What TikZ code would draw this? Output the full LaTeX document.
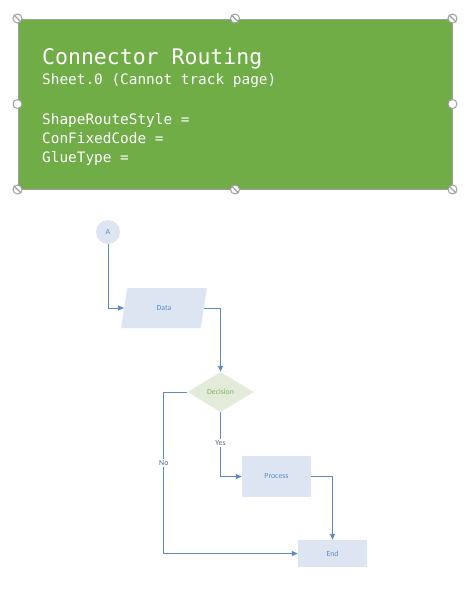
\documentclass[tikz,border=0pt]{standalone}
\usepackage{fontspec}
\setmainfont{Carlito}
\newfontfamily\hdrmono{DejaVu Sans Mono}
\usetikzlibrary{shapes.geometric,arrows.meta}
\definecolor{hdrgreen}{HTML}{70AD47}
\definecolor{hdrborder}{HTML}{A0A0A0}
\definecolor{conblue}{HTML}{5B8BC6}
\definecolor{shapefill}{HTML}{DEE5F2}
\definecolor{shapetext}{HTML}{5B8BC6}
\definecolor{decfill}{HTML}{E3ECDB}
\definecolor{dectext}{HTML}{7DB356}
\definecolor{lbltext}{HTML}{5A6A80}
\tikzset{
  handle/.style={circle,draw=hdrborder,fill=white,line width=1pt,minimum size=9pt,inner sep=0pt},
  hdrtext/.style={anchor=base west,text=white,inner sep=0pt,font=\hdrmono\fontsize{14.4}{16}\selectfont},
  fcshape/.style={fill=shapefill,text=shapetext,font=\fontsize{7.8}{9}\selectfont,inner sep=0pt},
  conn/.style={draw=conblue,line width=1pt,-{Triangle[length=6pt,width=5pt]}},
  lbl/.style={fill=white,text=lbltext,font=\fontsize{7.8}{9}\selectfont,inner sep=1.5pt}
}
\begin{document}
\begin{tikzpicture}[x=1pt,y=-1pt]
\useasboundingbox[fill=white] (0,0) rectangle (470,600);
% header
\node[draw=hdrborder,fill=hdrgreen,line width=1pt,minimum width=434pt,minimum height=170pt,inner sep=0pt] (hdr) at (235,104) {};
\node[hdrtext,font=\hdrmono\fontsize{21.5}{24}\selectfont] (title) at (42,64) {Connector Routing};
\node[hdrtext] (sheet) at (42,84) {Sheet.0 (Cannot track page)};
\node[hdrtext] (l1) at (42,124) {ShapeRouteStyle =};
\node[hdrtext] (l2) at (42,143) {ConFixedCode =};
\node[hdrtext] (l3) at (42,162) {GlueType =};
% handles
\foreach \n/\p in {nw/hdr.north west,n/hdr.north,ne/hdr.north east,sw/hdr.south west,s/hdr.south,se/hdr.south east}{
  \node[handle] (h\n) at (\p) {};
  \draw[hdrborder,line width=1.2pt] (h\n.north west) -- (h\n.south east);
}
\node[handle] (hw) at (hdr.west) {};
\node[handle] (he) at (hdr.east) {};
% flowchart
\node[fcshape,circle,minimum size=24pt] (A) at (108,232) {A};
\node[fcshape,trapezium,trapezium left angle=76,trapezium right angle=104,trapezium stretches=true,minimum width=86pt,minimum height=40pt] (data) at (164,308) {Data};
\node[fcshape,diamond,fill=decfill,text=dectext,minimum width=66pt,minimum height=40pt] (dec) at (220.5,392) {Decision};
\node[fcshape,rectangle,minimum width=69pt,minimum height=41pt] (proc) at (276.5,476.5) {Process};
\node[fcshape,rectangle,minimum width=69pt,minimum height=27pt] (end) at (332.5,553.5) {End};
\draw[conn] (A.south) |- (data.west);
\draw[conn] (data.east) -| (dec.north);
\draw[conn] (dec.south) |- node[lbl,pos=0.24] (yes) {Yes} (proc.west);
\draw[conn] (proc.east) -| (end.north);
\draw[conn] (dec.west) -| node[lbl,pos=0.72] (no) {No} ([xshift=-134pt]end.west) -- (end.west);
\end{tikzpicture}
\end{document}
